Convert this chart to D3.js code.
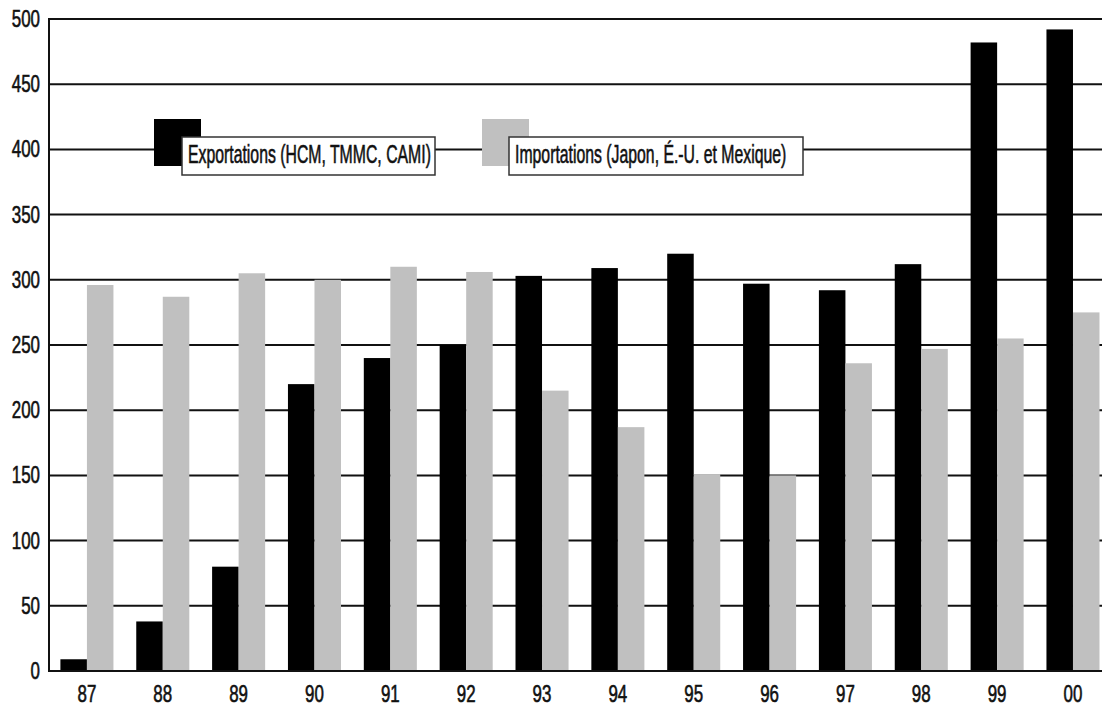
<!DOCTYPE html>
<html>
<head>
<meta charset="utf-8">
<script src="https://cdn.jsdelivr.net/npm/d3@7"></script>
<style>
  html, body { margin: 0; padding: 0; background: #fff; }
  svg { display: block; }
  text { font-family: "Liberation Sans", Arial, sans-serif; fill: #111; stroke: #111; stroke-width: 0.6px; }
</style>
</head>
<body>
<script>
// Véhicules : exportations et importations, 1987–2000
const years = ["87", "88", "89", "90", "91", "92", "93", "94", "95", "96", "97", "98", "99", "00"];
const exportations = [9, 38, 80, 220, 240, 250, 303, 309, 320, 297, 292, 312, 482, 492];
const importations = [296, 287, 305, 300, 310, 306, 215, 187, 151, 150, 236, 247, 255, 275];
const seriesNames = ["Exportations (HCM, TMMC, CAMI)", "Importations (Japon, É.-U. et Mexique)"];
const seriesColors = ["#000000", "#c0c0c0"];
const yTicks = [0, 50, 100, 150, 200, 250, 300, 350, 400, 450, 500];

const W = 1102, H = 706;
const plotLeft = 49, plotTop = 19, plotBottom = 671, plotRight = 1102;
const condense = 0.72; // horizontal squeeze giving a condensed face

const svg = d3.select("body").append("svg").attr("width", W).attr("height", H);
svg.append("rect").attr("width", W).attr("height", H).attr("fill", "#fff");

const x = d3.scaleBand().domain(years).range([plotLeft, plotLeft + years.length * 75.85]).padding(0);
const keys = ["exp", "imp"];
const xInner = d3.scaleBand().domain(keys).range([0, x.bandwidth()]).paddingInner(0).paddingOuter(0.43);
const y = d3.scaleLinear().domain([0, 500]).range([plotBottom, plotTop]);

const rows = years.map((yr, i) => ({ year: yr, exp: exportations[i], imp: importations[i] }));

// horizontal gridlines
svg.append("g").selectAll("line").data(yTicks.filter(v => v > 0)).join("line")
  .attr("x1", plotLeft).attr("x2", plotRight)
  .attr("y1", d => y(d)).attr("y2", d => y(d))
  .attr("stroke", "#111").attr("stroke-width", 2);

// bars
const groups = svg.append("g").selectAll("g").data(rows).join("g")
  .attr("transform", d => `translate(${x(d.year)},0)`);
groups.selectAll("rect").data(d => keys.map((k, j) => ({ key: k, value: d[k], color: seriesColors[j] }))).join("rect")
  .attr("x", d => xInner(d.key))
  .attr("width", xInner.bandwidth())
  .attr("y", d => y(d.value))
  .attr("height", d => y(0) - y(d.value))
  .attr("fill", d => d.color);

// y axis
const yAxis = d3.axisLeft(y).tickValues(yTicks).tickSize(0).tickPadding(9);
const gy = svg.append("g").attr("transform", `translate(${plotLeft},0)`).call(yAxis);
gy.select(".domain").remove();
gy.attr("font-family", null).attr("font-size", null);
gy.selectAll("text").attr("font-size", 23.5).attr("fill", "#111")
  .attr("x", -9 / condense).attr("transform", `scale(${condense},1)`);
svg.append("line").attr("x1", plotLeft).attr("x2", plotLeft).attr("y1", plotTop - 1).attr("y2", plotBottom + 1)
  .attr("stroke", "#111").attr("stroke-width", 2);

// x axis
const xAxis = d3.axisBottom(x).tickSize(0).tickPadding(14);
const gx = svg.append("g").attr("transform", `translate(0,${plotBottom})`).call(xAxis);
gx.select(".domain").remove();
gx.attr("font-family", null).attr("font-size", null);
gx.selectAll("text").attr("font-size", 23.5).attr("fill", "#111").attr("transform", `scale(${condense},1)`);
svg.append("line").attr("x1", plotLeft - 1).attr("x2", plotRight).attr("y1", plotBottom).attr("y2", plotBottom)
  .attr("stroke", "#111").attr("stroke-width", 2);

// legend
const legendItems = [
  { name: seriesNames[0], color: seriesColors[0], sx: 154, bx: 182, bw: 253 },
  { name: seriesNames[1], color: seriesColors[1], sx: 482, bx: 509, bw: 294 }
];
const lg = svg.append("g").selectAll("g").data(legendItems).join("g");
lg.append("rect").attr("x", d => d.sx).attr("y", 119).attr("width", 47).attr("height", 47).attr("fill", d => d.color);
lg.append("rect").attr("x", d => d.bx).attr("y", 137).attr("width", d => d.bw).attr("height", 38)
  .attr("fill", "#fff").attr("stroke", "#333").attr("stroke-width", 1.5);
lg.append("text")
  .attr("transform", d => `translate(${d.bx + 6},162.5) scale(0.62,1)`)
  .attr("font-size", 25.5).text(d => d.name);
</script>
</body>
</html>
